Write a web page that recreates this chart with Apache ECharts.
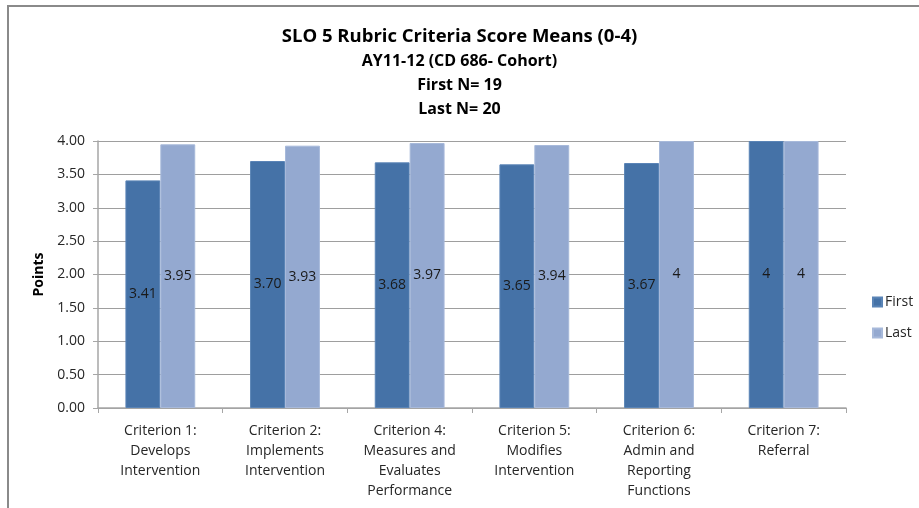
<!DOCTYPE html>
<html>
<head>
<meta charset="utf-8">
<script src="https://cdn.jsdelivr.net/npm/echarts@6/dist/echarts.min.js"></script>
<style>
  html, body { margin: 0; padding: 0; background: #fff; }
  #chart { width: 919px; height: 508px; }
</style>
</head>
<body>
<div id="chart"></div>
<script>
// Rubric criteria and mean scores for the first and last assessment
const categories = [
  'Criterion 1:\nDevelops\nIntervention',
  'Criterion 2:\nImplements\nIntervention',
  'Criterion 4:\nMeasures and\nEvaluates\nPerformance',
  'Criterion 5:\nModifies\nIntervention',
  'Criterion 6:\nAdmin and\nReporting\nFunctions',
  'Criterion 7:\nReferral'
];
const firstScores = [3.41, 3.70, 3.68, 3.65, 3.67, 4];
const lastScores = [3.95, 3.93, 3.97, 3.94, 4, 4];
const yTicks = [0, 0.5, 1, 1.5, 2, 2.5, 3, 3.5, 4];

const FONT = '"Open Sans", "Noto Sans", sans-serif';
const fmtValue = v => Number.isInteger(v) ? String(v) : v.toFixed(2);

const chart = echarts.init(document.getElementById('chart'), null, { renderer: 'canvas' });

const barLabel = {
  show: true,
  position: 'inside',
  color: '#1a1a1a',
  fontFamily: FONT,
  fontSize: 14,
  formatter: p => fmtValue(p.value)
};

chart.setOption({
  backgroundColor: '#ffffff',
  animation: false,
  graphic: [{
    type: 'rect',
    shape: { x: 8, y: 6, width: 1000, height: 600 },
    style: { fill: 'none', stroke: '#8a8a8a', lineWidth: 2 },
    silent: true
  }],
  title: [
    {
      text: 'SLO 5 Rubric Criteria Score Means (0-4)',
      left: 'center', top: 22,
      textStyle: { fontFamily: FONT, fontWeight: 'bold', fontSize: 18.5, color: '#000' }
    },
    {
      text: 'AY11-12 (CD 686- Cohort)\nFirst N= 19\nLast N= 20',
      left: 'center', top: 44,
      textStyle: { fontFamily: FONT, fontWeight: 'bold', fontSize: 16, lineHeight: 24, color: '#000' }
    }
  ],
  legend: {
    orient: 'vertical',
    left: 867, top: 290,
    itemWidth: 9, itemHeight: 9, itemGap: 17,
    icon: 'rect',
    textStyle: { fontFamily: FONT, fontSize: 14, color: '#262626', padding: [0, 0, 0, -2] },
    data: ['First', 'Last']
  },
  grid: { left: 98, right: 73, top: 141, bottom: 100, containLabel: false },
  xAxis: {
    type: 'category',
    data: categories,
    axisLine: { show: true, lineStyle: { color: '#a6a6a6', width: 1.5 } },
    axisTick: { show: true, length: 5, alignWithLabel: false, lineStyle: { color: '#a6a6a6' } },
    axisLabel: {
      interval: 0, margin: 13, color: '#262626',
      fontFamily: FONT, fontSize: 14, lineHeight: 20, align: 'center'
    }
  },
  yAxis: {
    type: 'value',
    min: yTicks[0], max: yTicks[yTicks.length - 1], interval: 0.5,
    name: 'Points',
    nameLocation: 'middle', nameGap: 50, nameRotate: 90,
    nameTextStyle: { fontFamily: FONT, fontWeight: 'bold', fontSize: 14, color: '#000' },
    axisLine: { show: true, lineStyle: { color: '#a6a6a6', width: 1.5 } },
    axisTick: { show: true, length: 5, lineStyle: { color: '#a6a6a6' } },
    splitLine: { show: true, lineStyle: { color: '#9e9e9e', width: 1.2 } },
    axisLabel: {
      margin: 13, color: '#262626', fontFamily: FONT, fontSize: 14,
      formatter: v => v.toFixed(2)
    }
  },
  series: [
    {
      name: 'First', type: 'bar', data: firstScores,
      barGap: '0%', barCategoryGap: '44%',
      itemStyle: { color: '#4572a7', borderColor: '#5a84b6', borderWidth: 1 },
      label: barLabel
    },
    {
      name: 'Last', type: 'bar', data: lastScores,
      barGap: '0%', barCategoryGap: '44%',
      itemStyle: { color: '#94a9d0', borderColor: '#a7b9da', borderWidth: 1 },
      label: barLabel
    }
  ]
});
</script>
</body>
</html>
